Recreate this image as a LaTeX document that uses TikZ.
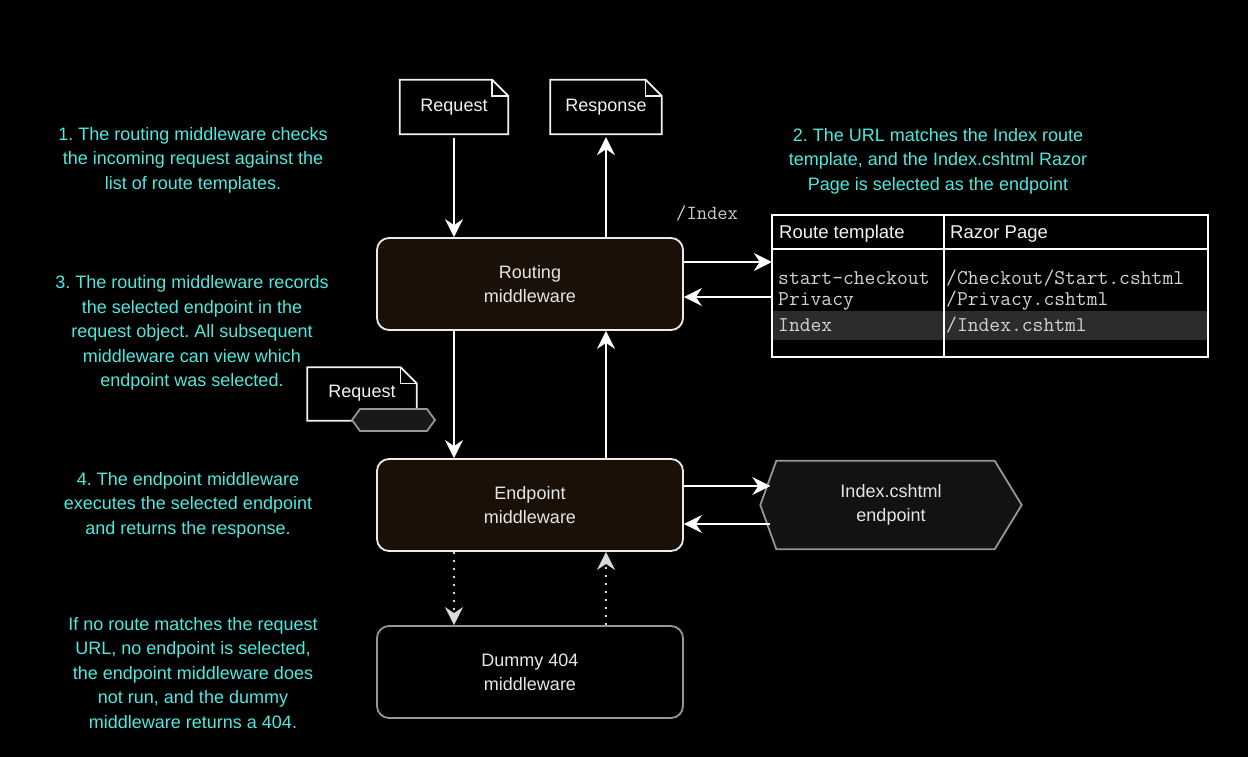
\documentclass[tikz,border=0pt]{standalone}
\usepackage{fontspec}
\setmainfont{Liberation Sans}
\usepackage{tikz}
\usetikzlibrary{arrows.meta,calc}
\frenchspacing

\definecolor{notecyan}{RGB}{77,232,224}
\definecolor{boxfill}{RGB}{26,16,8}
\definecolor{linegray}{RGB}{150,150,150}
\definecolor{textgray}{RGB}{210,210,210}
\definecolor{bandgray}{RGB}{44,44,44}

\tikzset{
  note/.style={text=notecyan, align=center, inner sep=0pt, font=\fontsize{18}{24.5}\selectfont},
  mwbox/.style={draw=white!92!black, line width=1.8pt, fill=boxfill, rounded corners=12pt,
    minimum width=306pt, minimum height=92pt, text=white!90!black, align=center,
    font=\fontsize{18}{24}\selectfont},
  docnode/.style={inner sep=0pt, minimum width=108pt, minimum height=54pt, text=white!95!black,
    font=\fontsize{18}{22}\selectfont},
  docline/.style={draw=white!95!black, line width=1.8pt, fill=black},
  flow/.style={white, line width=1.8pt, -{Stealth[length=18pt,width=18pt,inset=6pt]}},
  dotflow/.style={flow, white!85!black, dash pattern=on 2pt off 6pt},
  cell/.style={anchor=west, inner sep=0pt, text=textgray, font=\fontsize{21}{22}\ttfamily},
  head/.style={anchor=west, inner sep=0pt, text=white!95!black, font=\fontsize{18.5}{20}\selectfont}
}

\begin{document}
\begin{tikzpicture}[x=1pt,y=-1pt]
  \fill[black] (0,0) rectangle (1248,757);
  \useasboundingbox (0,0) rectangle (1248,757);

  % notes on the left and top right
  \node[note] (n1) at (193,160) {1. The routing middleware checks\\the incoming request against the\\list of route templates.};
  \node[note] (n2) at (938,161) {2. The URL matches the Index route\\template, and the Index.cshtml Razor\\Page is selected as the endpoint};
  \node[note] (n3) at (192,333) {3. The routing middleware records\\the selected endpoint in the\\request object. All subsequent\\middleware can view which\\endpoint was selected.};
  \node[note] (n4) at (188,505) {4. The endpoint middleware\\executes the selected endpoint\\and returns the response.};
  \node[note] (n5) at (193,673) {If no route matches the request\\URL, no endpoint is selected,\\the endpoint middleware does\\not run, and the dummy\\middleware returns a 404.};

  % middleware pipeline
  \node[mwbox] (rout) at (530,284) {Routing\\middleware};
  \node[mwbox] (endp) at (530,505) {Endpoint\\middleware};
  \node[mwbox, fill=black, draw=linegray] (dummy) at (530,672) {Dummy 404\\middleware};

  % request and response documents
  \node[docnode] (req) at (454,107) {};
  \draw[docline] (req.south west) -- (req.north west) -- ([xshift=-16pt]req.north east)
    -- ([yshift=-16pt]req.north east) -- (req.south east) -- cycle;
  \draw[white!95!black, line width=1.5pt] ([xshift=-16pt]req.north east) -- ([xshift=-16pt,yshift=-16pt]req.north east) -- ([yshift=-16pt]req.north east);
  \node[docnode] at (req) {Request};

  \node[docnode, minimum width=111pt] (resp) at (606,107) {};
  \draw[docline] (resp.south west) -- (resp.north west) -- ([xshift=-16pt]resp.north east)
    -- ([yshift=-16pt]resp.north east) -- (resp.south east) -- cycle;
  \draw[white!95!black, line width=1.5pt] ([xshift=-16pt]resp.north east) -- ([xshift=-16pt,yshift=-16pt]resp.north east) -- ([yshift=-16pt]resp.north east);
  \node[docnode] at (resp) {Response};

  % small request carrying the endpoint
  \node[docnode, minimum width=109pt, minimum height=53pt] (req2) at (362,394) {};
  \draw[docline] (req2.south west) -- (req2.north west) -- ([xshift=-16pt]req2.north east)
    -- ([yshift=-16pt]req2.north east) -- (req2.south east) -- cycle;
  \draw[white!95!black, line width=1.5pt] ([xshift=-16pt]req2.north east) -- ([xshift=-16pt,yshift=-16pt]req2.north east) -- ([yshift=-16pt]req2.north east);
  \node[docnode] at ([yshift=1pt]req2) {Request};
  \coordinate (tag) at (393,420);
  \draw[linegray, line width=1.8pt, fill=black!90!white] ($(tag)+(-41,0)$) -- ($(tag)+(-33,-11)$) -- ($(tag)+(34,-11)$)
    -- ($(tag)+(42,0)$) -- ($(tag)+(34,11)$) -- ($(tag)+(-33,11)$) -- cycle;

  % vertical flow
  \draw[flow, shorten <=4pt] (req.south) -- (req.south |- rout.north);
  \draw[flow, shorten >=3pt] (resp.south |- rout.north) -- (resp.south);
  \draw[flow] (req.south |- rout.south) -- (req.south |- endp.north);
  \draw[flow] (resp.south |- endp.north) -- (resp.south |- rout.south);
  \draw[dotflow] (req.south |- endp.south) -- (req.south |- dummy.north);
  \draw[dotflow] (resp.south |- dummy.north) -- (resp.south |- endp.south);

  % route table
  \node[inner sep=0pt, minimum width=436pt, minimum height=142pt] (tbl) at (990,286) {};
  \fill[bandgray] (772,311) rectangle (1208,340);
  \draw[white, line width=1.8pt] (tbl.north west) rectangle (tbl.south east);
  \draw[white, line width=1.8pt] (772,249) -- (1208,249);
  \draw[white, line width=1.8pt] (944,215) -- (944,357);
  \node[head] (h1) at (779,234) {Route template};
  \node[head] (h2) at (950,234) {Razor Page};
  \node[cell] (r1) at (778,278) {start-checkout};
  \node[cell] (p1) at (946,278) {/Checkout/Start.cshtml};
  \node[cell] (r2) at (778,301) {Privacy};
  \node[cell] (p2) at (946,301) {/Privacy.cshtml};
  \node[cell] (r3) at (778,325) {Index};
  \node[cell] (p3) at (946,325) {/Index.cshtml};
  \node[cell, text=white!80!black, font=\fontsize{20}{20}\ttfamily] (url) at (676,213) {/Index};

  \draw[flow] ([yshift=22pt]rout.east) -- ([yshift=22pt]rout.east -| tbl.west);
  \draw[flow] ([yshift=-13pt]rout.east -| tbl.west) -- ([yshift=-13pt]rout.east);

  % endpoint hexagon
  \node[inner sep=0pt, minimum width=261pt, minimum height=88pt] (page) at (891,505) {};
  \draw[linegray, line width=1.8pt, fill=black!93!white] (page.west) -- ([xshift=16pt]page.north west)
    -- ([xshift=-27pt]page.north east) -- (page.east) -- ([xshift=-27pt]page.south east)
    -- ([xshift=16pt]page.south west) -- cycle;
  \node[align=center, text=white!90!black, font=\fontsize{18}{24}\selectfont] at (page) {Index.cshtml\\endpoint};

  \draw[flow] ([yshift=19pt]endp.east) -- ([yshift=19pt,xshift=10pt]endp.east -| page.west);
  \draw[flow] ([yshift=-19pt,xshift=10pt]endp.east -| page.west) -- ([yshift=-19pt]endp.east);
\end{tikzpicture}
\end{document}
